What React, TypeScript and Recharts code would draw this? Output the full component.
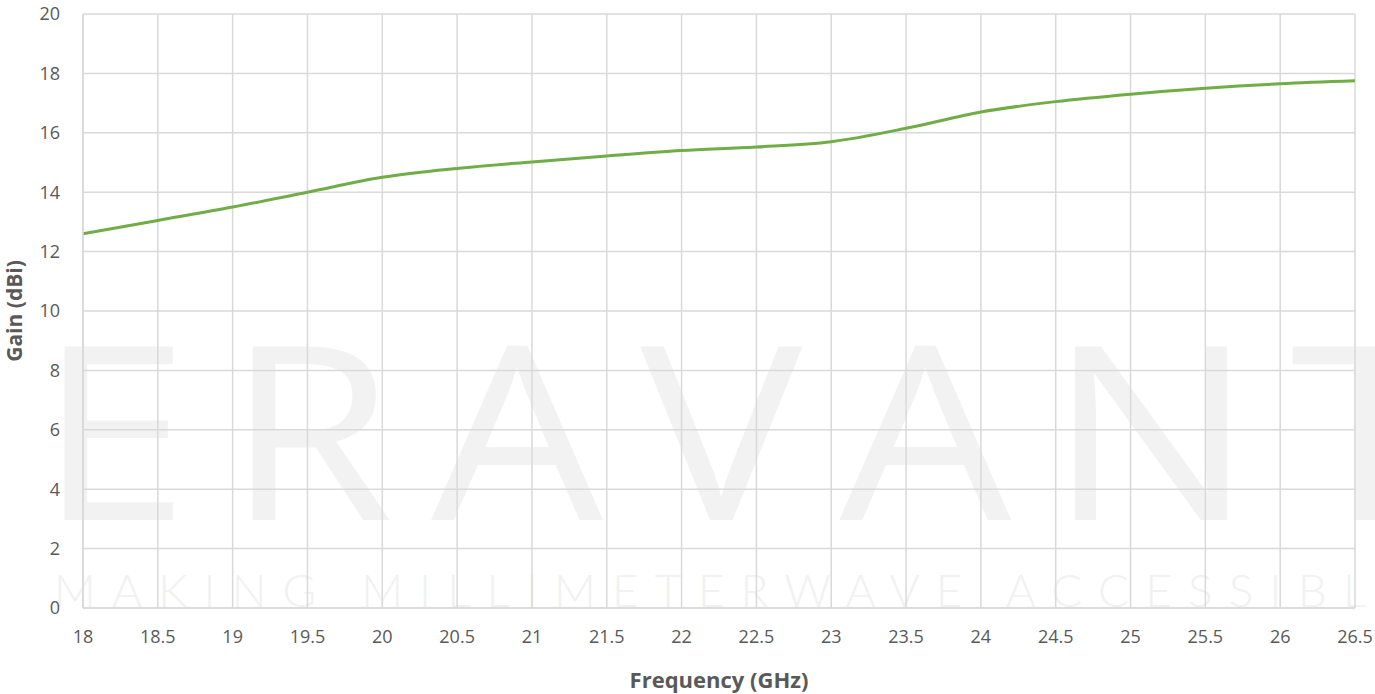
import React from "react";
import { LineChart, Line, XAxis, YAxis, CartesianGrid } from "recharts";

const frequencies = [18, 18.5, 19, 19.5, 20, 20.5, 21, 21.5, 22, 22.5, 23, 23.5, 24, 24.5, 25, 25.5, 26, 26.5];
const gainValues = [12.6, 13.05, 13.5, 14.0, 14.5, 14.8, 15.02, 15.22, 15.4, 15.52, 15.7, 16.15, 16.7, 17.05, 17.3, 17.5, 17.65, 17.75];
const xTicks = [18, 18.5, 19, 19.5, 20, 20.5, 21, 21.5, 22, 22.5, 23, 23.5, 24, 24.5, 25, 25.5, 26, 26.5];
const yTicks = [0, 2, 4, 6, 8, 10, 12, 14, 16, 18, 20];

const data = frequencies.map((f, i) => ({ freq: f, gain: gainValues[i] }));

const W = 1375;
const H = 694;
const tickStyle = { fill: "#595959", fontSize: 18, fontFamily: "'Open Sans', sans-serif" };

export default function App() {
  return (
    <div style={{ position: "absolute", left: 0, top: 0, width: W, height: H, background: "#fff", overflow: "hidden" }}>
      <svg width={W} height={H} style={{ position: "absolute", left: 0, top: 0 }}>
        <g transform="translate(38,520) scale(1.12,1)">
          <text x={0} y={0} fill="#f2f2f2" fontFamily="'Open Sans', sans-serif" fontSize={243} textLength={1252} lengthAdjust="spacing">ERAVANT</text>
        </g>
        <text x={54} y={607} fill="#f1f1f1" fontFamily="Lato, 'Open Sans', sans-serif" fontSize={46} fontWeight={300} textLength={1355} lengthAdjust="spacing">MAKING MILLIMETERWAVE ACCESSIBLE</text>
      </svg>
      <div style={{ position: "absolute", left: 0, top: 0 }}>
        <LineChart width={W} height={H} data={data} margin={{ top: 14, right: 20, left: 0, bottom: 0 }}>
          <CartesianGrid stroke="#d9d9d9" strokeWidth={1.5} />
          <XAxis
            dataKey="freq"
            type="number"
            domain={[18, 26.5]}
            ticks={xTicks}
            interval={0}
            height={86}
            tickLine={false}
            tickSize={0}
            tickMargin={22}
            stroke="#d9d9d9"
            strokeWidth={1.5}
            tick={tickStyle}
            label={{ value: "Frequency (GHz)", position: "insideBottom", offset: 6, style: { fill: "#595959", fontSize: 22, fontWeight: 700, fontFamily: "'Open Sans', sans-serif" } }}
          />
          <YAxis
            type="number"
            domain={[0, 20]}
            ticks={yTicks}
            interval={0}
            width={83}
            tickLine={false}
            tickSize={0}
            tickMargin={23}
            stroke="#d9d9d9"
            strokeWidth={1.5}
            tick={tickStyle}
            label={{ value: "Gain (dBi)", angle: -90, position: "insideLeft", offset: 15, style: { textAnchor: "middle", fill: "#595959", fontSize: 21, fontWeight: 700, fontFamily: "'Open Sans', sans-serif" } }}
          />
          <Line type="monotone" dataKey="gain" stroke="#70ad47" strokeWidth={3} dot={false} isAnimationActive={false} />
        </LineChart>
      </div>
    </div>
  );
}
